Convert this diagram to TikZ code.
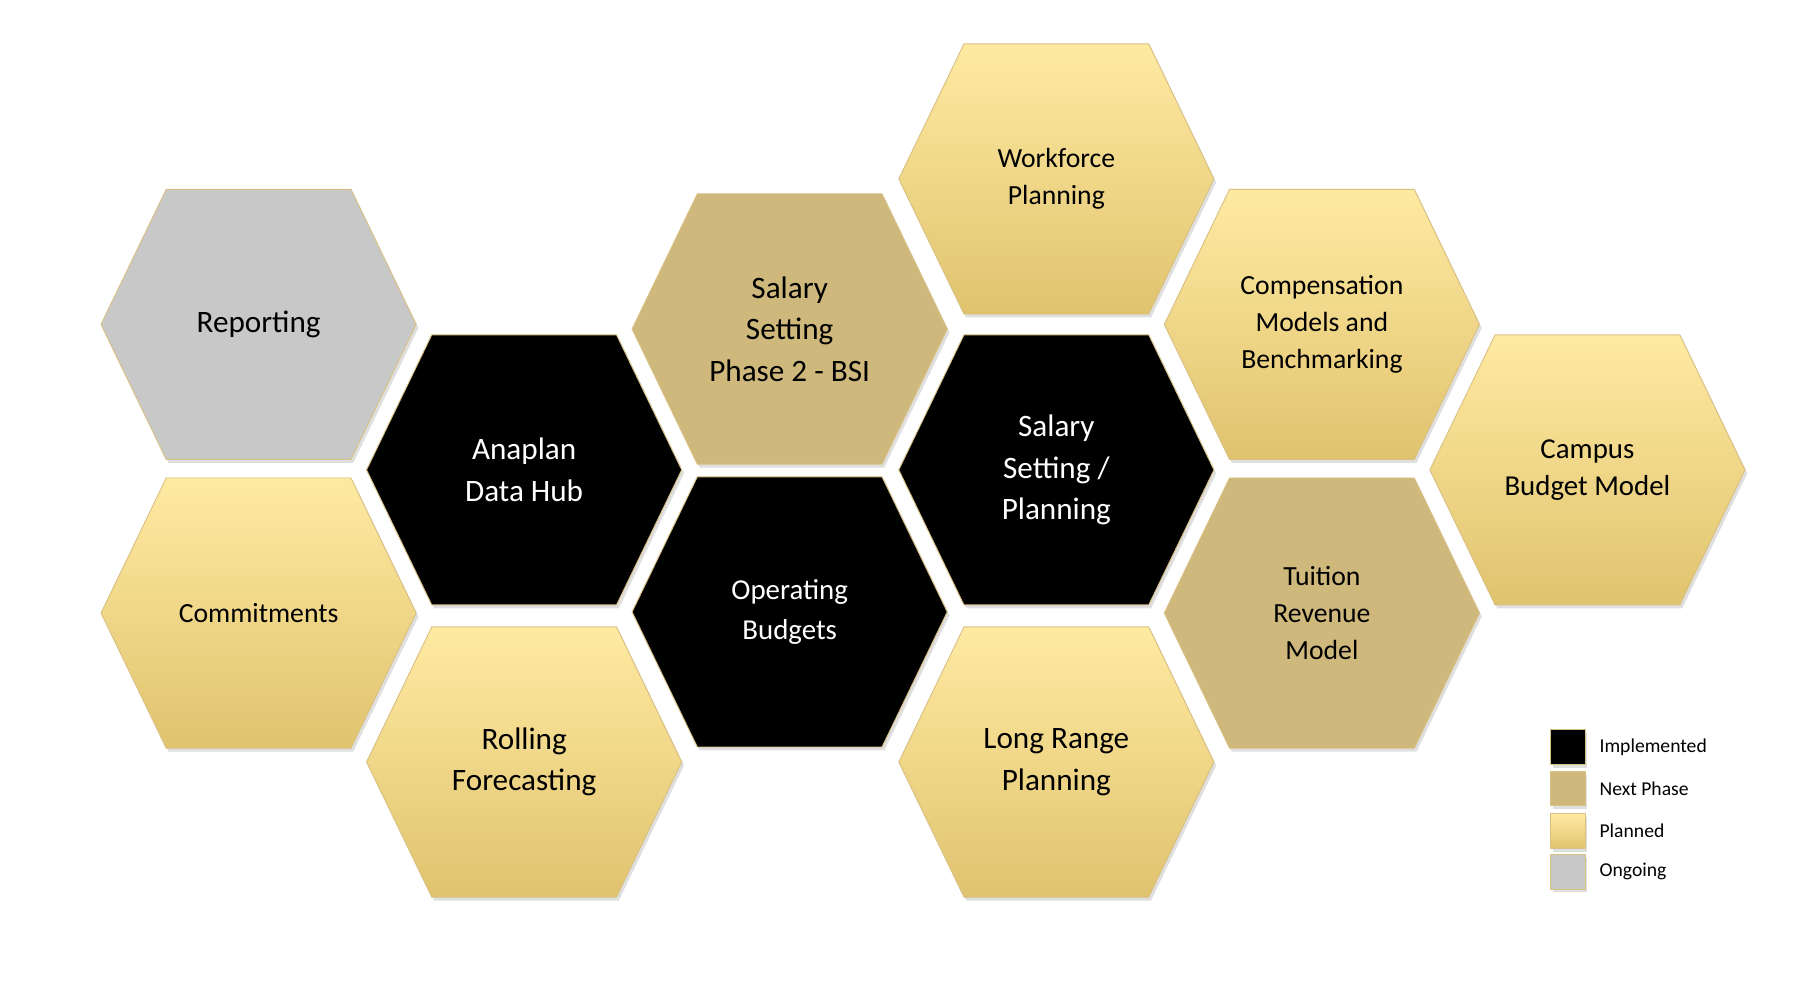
\documentclass[tikz,border=0pt]{standalone}
\usepackage{fontspec}
\setmainfont{Carlito}
\usetikzlibrary{shadows}
\definecolor{plt}{HTML}{FFEAA2}
\definecolor{plb}{HTML}{E0C36E}
\definecolor{nxt}{HTML}{CFB87C}
\definecolor{ong}{HTML}{C8C8C8}
\definecolor{edg}{HTML}{D9C083}
\tikzset{
 x=1pt,y=-1pt,
 base/.style={draw=edg,line width=0.8pt,drop shadow={shadow xshift=2pt,shadow yshift=-3pt,opacity=0.25}},
 impl/.style={base,fill=black},
 nextp/.style={base,fill=nxt},
 plan/.style={base,top color=plt,bottom color=plb},
 ongo/.style={base,fill=ong},
 lbl/.style={align=center,text=black,inner sep=0pt},
 wlbl/.style={lbl,text=white},
 leg/.style={anchor=west,font=\fontsize{17}{20}\selectfont},
}
\newcommand{\hexa}[4]{% style, x, y, name
 \path[#1] (#2-80,#3-117) -- (#2+80,#3-117) -- (#2+136.5,#3) -- (#2+80,#3+117) -- (#2-80,#3+117) -- (#2-136.5,#3) -- cycle;
 \coordinate (#4) at (#2,#3);}
\begin{document}
\begin{tikzpicture}
\useasboundingbox (0,0) rectangle (1560,851);
\hexa{ongo}{224}{281}{rep}
\hexa{plan}{224}{531}{com}
\hexa{impl}{454}{407}{ana}
\hexa{plan}{454}{660}{rol}
\hexa{nextp}{684}{285}{ssp}
\hexa{impl}{684}{530}{opb}
\hexa{plan}{915}{155}{wfp}
\hexa{impl}{915}{407}{ssl}
\hexa{plan}{915}{660}{lrp}
\hexa{plan}{1145}{281}{cmb}
\hexa{nextp}{1145}{531}{trm}
\hexa{plan}{1375}{407}{cbm}
\node[lbl,font=\fontsize{27}{36}\selectfont] at (rep) {Reporting};
\node[lbl,font=\fontsize{24}{32}\selectfont] at (com) {Commitments};
\node[wlbl,font=\fontsize{27}{36}\selectfont] at (ana) {Anaplan\\Data Hub};
\node[lbl,font=\fontsize{27}{36}\selectfont] at (rol) {Rolling\\Forecasting};
\node[lbl,font=\fontsize{27}{36}\selectfont] at (ssp) {Salary\\Setting\\Phase 2 - BSI};
\node[wlbl,font=\fontsize{25}{34}\selectfont] at (opb) {Operating\\Budgets};
\node[lbl,font=\fontsize{24}{32}\selectfont] at (wfp) {Workforce\\Planning};
\node[wlbl,font=\fontsize{27}{36}\selectfont] at (ssl) {Salary\\Setting /\\Planning};
\node[lbl,font=\fontsize{27}{36}\selectfont] at (lrp) {Long Range\\Planning};
\node[lbl,font=\fontsize{24}{32}\selectfont] at (cmb) {Compensation\\Models and\\Benchmarking};
\node[lbl,font=\fontsize{24}{32}\selectfont] at (trm) {Tuition\\Revenue\\Model};
\node[lbl,font=\fontsize{25}{32}\selectfont] at (cbm) {Campus\\Budget Model};
\path[impl] (1343,632) rectangle (1373,662);
\path[nextp] (1343,668) rectangle (1373,698);
\path[plan] (1343,705) rectangle (1373,735);
\path[ongo] (1343,740) rectangle (1373,770);
\node[leg] (l1) at (1382,647) {Implemented};
\node[leg] (l2) at (1382,683) {Next Phase};
\node[leg] (l3) at (1382,720) {Planned};
\node[leg] (l4) at (1382,755) {Ongoing};
\end{tikzpicture}
\end{document}
